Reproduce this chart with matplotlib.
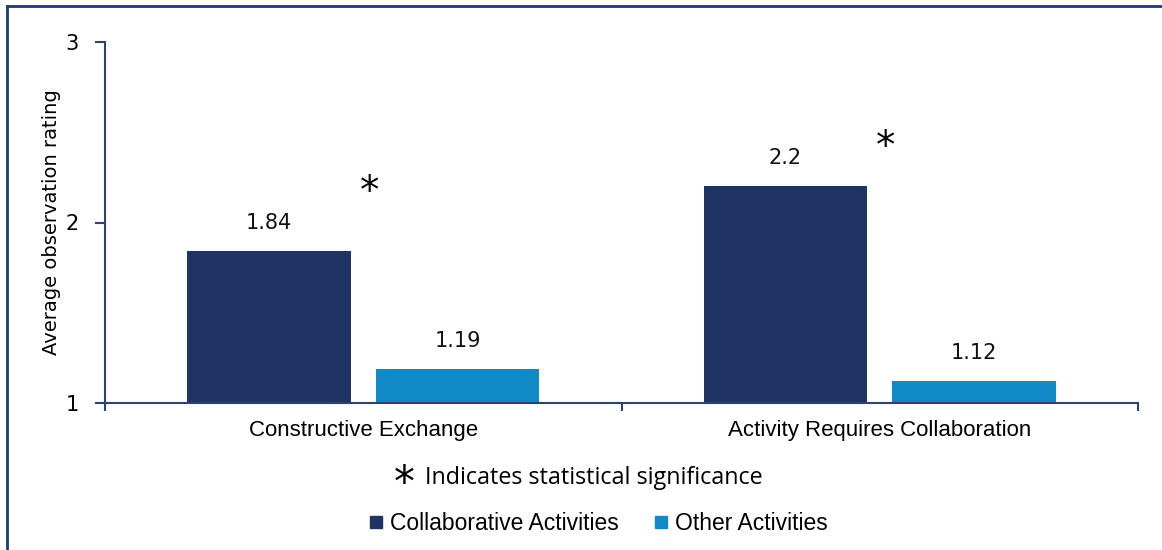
import matplotlib.pyplot as plt
import numpy as np
from matplotlib.lines import Line2D

categories = ['Constructive Exchange', 'Activity Requires Collaboration']
series_names = ['Collaborative Activities', 'Other Activities']
collab = [1.84, 2.2]
other = [1.19, 1.12]
# significance markers: (category index, height)
stars = [(0, 2.17), (1, 2.42)]
yticks = [1, 2, 3]

dark = '#1f3464'
light = '#1289c7'
axcol = '#2b4371'

fig = plt.figure(figsize=(11.62, 5.5), dpi=100)
ax = fig.add_axes([105/1162, 1-403/550, (1138-105)/1162, (403-42)/550])

x = np.arange(len(categories))
w = 0.317
gap = 0.048
b1 = ax.bar(x - (w+gap)/2, np.array(collab) - 1, w, bottom=1, color=dark, label=series_names[0])
b2 = ax.bar(x + (w+gap)/2, np.array(other) - 1, w, bottom=1, color=light, label=series_names[1])

for bars, vals in ((b1, collab), (b2, other)):
    for r, v in zip(bars, vals):
        ax.text(r.get_x() + r.get_width()/2, v + 0.1, f'{v:g}', ha='center', va='bottom',
                fontsize=15, family='DejaVu Sans', color='#111111')

for i, h in stars:
    ax.text(i + 0.012, h, '*', ha='center', va='center', fontsize=28, family='DejaVu Sans')

ax.set_xlim(-0.5, 1.5)
ax.set_ylim(1, 3)
ax.set_yticks(yticks)
ax.set_yticklabels([str(t) for t in yticks], fontsize=15)
ax.set_xticks([-0.5, 0.5, 1.5])
ax.set_xticklabels([])
ax.set_xticks(x, minor=True)
ax.set_xticklabels(categories, minor=True, fontsize=16, family='Liberation Sans')
ax.tick_params(axis='x', which='minor', length=0, pad=12)
ax.tick_params(axis='x', which='major', length=6, color=axcol, width=1.5, direction='out')
ax.tick_params(axis='y', length=7, color=axcol, width=1.5, pad=12)
for s in ('top', 'right'):
    ax.spines[s].set_visible(False)
for s in ('left', 'bottom'):
    ax.spines[s].set_color(axcol)
    ax.spines[s].set_linewidth(1.5)
ax.set_ylabel('Average observation rating', fontsize=14, labelpad=3)

fig.text(404/1162, 1-484/550, '*', ha='center', va='center', fontsize=30, family='DejaVu Sans')
fig.text(425/1162, 1-478/550, 'Indicates statistical significance', ha='left', va='center',
         fontsize=16.8, family='Open Sans')

handles = [Line2D([], [], marker='s', ls='', color=dark, markersize=8.5),
           Line2D([], [], marker='s', ls='', color=light, markersize=8.5)]
fig.legend(handles, series_names, loc='center', bbox_to_anchor=(596/1162, 1-524/550), ncol=2,
           frameon=False, handletextpad=0.1, columnspacing=1.34, handlelength=1.0,
           prop={'family': 'Liberation Sans', 'size': 16.5})

# border around the chart
fig.add_artist(Line2D([7/1162, 7/1162], [0, 1-6/550], color='#1f3a6e', lw=2))
fig.add_artist(Line2D([7/1162, 1], [1-6/550, 1-6/550], color='#1f3a6e', lw=2))

fig.savefig('out.png', dpi=100)
